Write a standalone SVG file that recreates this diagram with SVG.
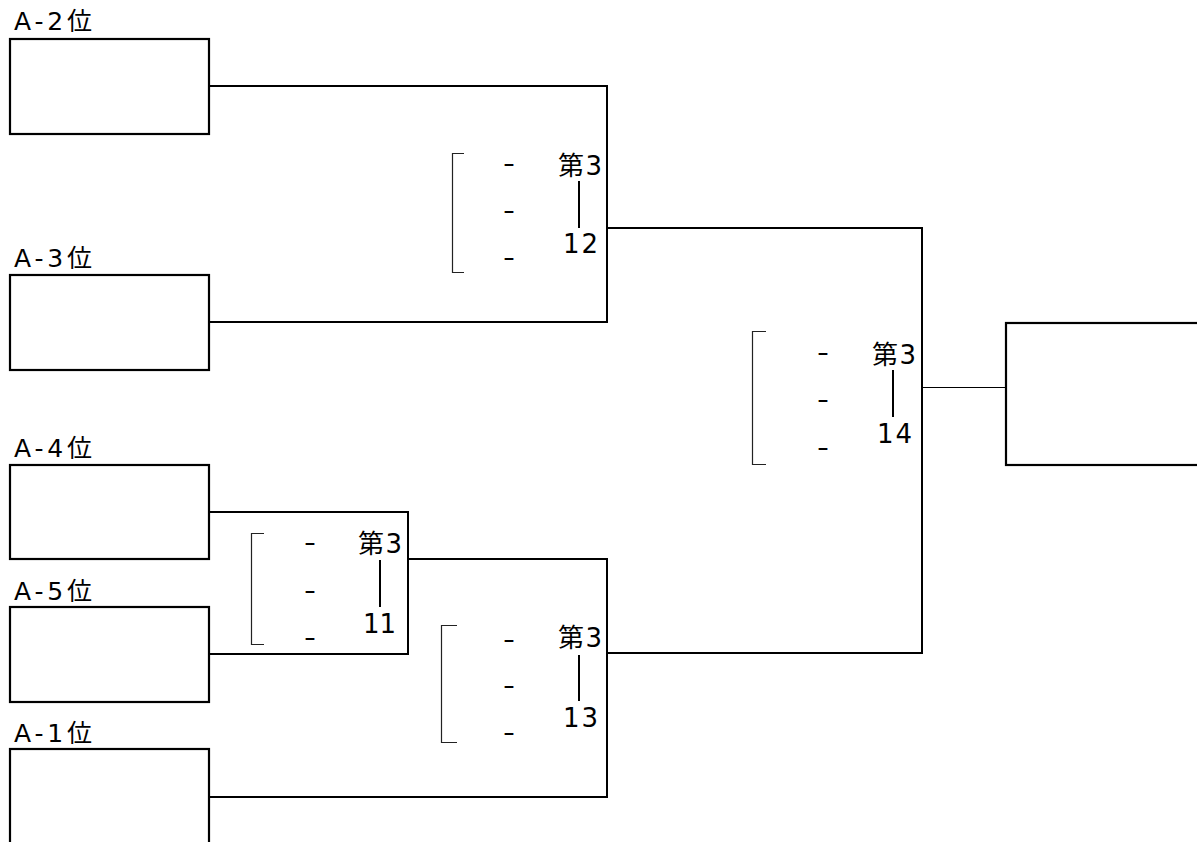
<svg xmlns="http://www.w3.org/2000/svg" width="1197" height="842" viewBox="0 0 1197 842">
<style>
.box{fill:#fff;stroke:#000;stroke-width:2.2}
.conn{fill:none;stroke:#000;stroke-width:2}
.thin{fill:none;stroke:#000;stroke-width:1}
.brk{fill:none;stroke:#222;stroke-width:1.2}
.vl{stroke:#000;stroke-width:2}
.lbl{font-family:"DejaVu Sans","Noto Sans CJK JP",sans-serif;font-size:25px;fill:#000}
.t{font-family:"DejaVu Sans","Noto Sans CJK JP",sans-serif;font-size:26px;fill:#000}
.d{font-family:"DejaVu Sans","Noto Sans CJK JP",sans-serif;font-size:24px;fill:#000}
</style>
<rect width="1197" height="842" fill="#fff"/>
<g id="connectors">
<path class="conn" d="M209,86 H607 V322 H209"/>
<path class="conn" d="M607,228 H922 V653 H607"/>
<path class="conn" d="M209,512 H408 V654 H209"/>
<path class="conn" d="M408,559 H607 V797 H209"/>
<path class="thin" d="M922,387.5 H1006"/>
</g>
<g id="node-a2"><text class="lbl" x="14" y="30" textLength="78" lengthAdjust="spacing">A-2位</text><rect class="box" x="10" y="39" width="199" height="95"/></g>
<g id="node-a3"><text class="lbl" x="14" y="267" textLength="78" lengthAdjust="spacing">A-3位</text><rect class="box" x="10" y="275" width="199" height="95"/></g>
<g id="node-a4"><text class="lbl" x="14" y="457" textLength="78" lengthAdjust="spacing">A-4位</text><rect class="box" x="10" y="465" width="199" height="94"/></g>
<g id="node-a5"><text class="lbl" x="14" y="600" textLength="78" lengthAdjust="spacing">A-5位</text><rect class="box" x="10" y="607" width="199" height="95"/></g>
<g id="node-a1"><text class="lbl" x="14" y="742" textLength="78" lengthAdjust="spacing">A-1位</text><rect class="box" x="10" y="749" width="199" height="120"/></g>
<g id="node-final"><rect class="box" x="1006" y="323" width="220" height="142"/></g>
<g id="match-12">
<path class="brk" d="M464,153.5 H452.5 V272.5 H464"/>
<text class="d" x="503" y="172" textLength="12" lengthAdjust="spacingAndGlyphs">-</text>
<text class="d" x="503" y="219" textLength="12" lengthAdjust="spacingAndGlyphs">-</text>
<text class="d" x="503" y="266" textLength="12" lengthAdjust="spacingAndGlyphs">-</text>
<text class="t" x="558" y="175" textLength="44" lengthAdjust="spacing">第3</text>
<line class="vl" x1="579" y1="181" x2="579" y2="228"/>
<text class="t" x="563" y="253" textLength="35" lengthAdjust="spacing">12</text>
</g>
<g id="match-14">
<path class="brk" d="M766,331.5 H752.5 V464.5 H766"/>
<text class="d" x="817" y="361" textLength="12" lengthAdjust="spacingAndGlyphs">-</text>
<text class="d" x="817" y="408" textLength="12" lengthAdjust="spacingAndGlyphs">-</text>
<text class="d" x="817" y="456" textLength="12" lengthAdjust="spacingAndGlyphs">-</text>
<text class="t" x="872" y="364" textLength="44" lengthAdjust="spacing">第3</text>
<line class="vl" x1="893" y1="370" x2="893" y2="417"/>
<text class="t" x="877" y="443" textLength="35" lengthAdjust="spacing">14</text>
</g>
<g id="match-11">
<path class="brk" d="M264,533.5 H251.5 V644.5 H264"/>
<text class="d" x="304" y="551" textLength="12" lengthAdjust="spacingAndGlyphs">-</text>
<text class="d" x="304" y="599" textLength="12" lengthAdjust="spacingAndGlyphs">-</text>
<text class="d" x="304" y="646" textLength="12" lengthAdjust="spacingAndGlyphs">-</text>
<text class="t" x="358" y="553" textLength="44" lengthAdjust="spacing">第3</text>
<line class="vl" x1="380" y1="560" x2="380" y2="607"/>
<text class="t" x="363" y="633" textLength="33" lengthAdjust="spacing">11</text>
</g>
<g id="match-13">
<path class="brk" d="M457,625.5 H441.5 V742.5 H457"/>
<text class="d" x="503" y="648" textLength="12" lengthAdjust="spacingAndGlyphs">-</text>
<text class="d" x="503" y="694" textLength="12" lengthAdjust="spacingAndGlyphs">-</text>
<text class="d" x="503" y="741" textLength="12" lengthAdjust="spacingAndGlyphs">-</text>
<text class="t" x="558" y="647" textLength="44" lengthAdjust="spacing">第3</text>
<line class="vl" x1="579" y1="655" x2="579" y2="701"/>
<text class="t" x="563" y="727" textLength="35" lengthAdjust="spacing">13</text>
</g>
</svg>
